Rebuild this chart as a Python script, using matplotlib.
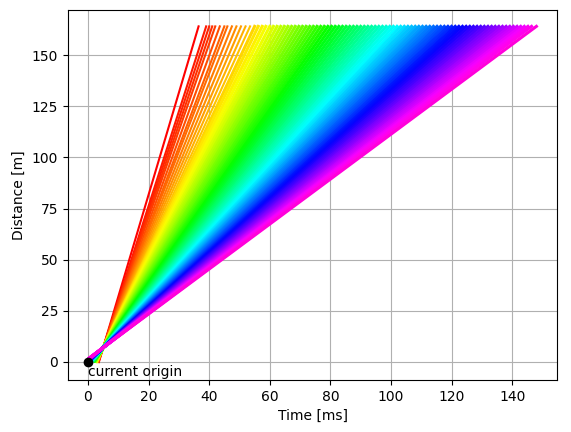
import numpy as np
import matplotlib.pyplot as plt

# arrival time [ms] of each trace at the top distance
end_times = [36.5, 39.0, 40.0, 41.0, 42.0, 43.5, 45.0, 46.0, 47.5, 49.0, 50.5, 52.0,
             53.5, 55.0, 56.2, 57.5, 58.7, 60.0, 61.2, 62.4, 63.6, 64.8, 66.0, 67.2,
             68.4, 69.6, 70.8, 72.0, 73.2, 74.4, 75.6, 76.8, 78.0, 79.2, 80.4, 81.6,
             82.8, 84.0, 85.2, 86.4, 87.6, 88.8, 90.0, 91.2, 92.4, 93.6, 94.8, 96.0,
             97.2, 98.4, 99.6, 100.8, 102.0, 103.2, 104.4, 105.6, 106.8, 108.0, 109.2,
             110.4, 111.6, 112.8, 114.0, 115.2, 116.4, 117.6, 118.8, 120.0, 121.2,
             122.4, 123.6, 124.8, 126.0, 127.2, 128.4, 129.6, 130.8, 132.0, 133.2,
             134.4, 135.6, 136.8, 138.0, 139.2, 140.4, 141.6, 142.8, 144.0, 145.2,
             146.4, 148.0]
top_distance = 164.0
pivot_time = 5.0     # traces cross here
pivot_dist = 7.0
start_dist_red = 0.0
start_dist_magenta = 2.0

fig = plt.figure(figsize=(5.71, 4.32), dpi=100)
ax = fig.add_axes([68 / 571, 52 / 432, 489 / 571, 370 / 432])
n = len(end_times)
cmap = plt.get_cmap('hsv')
tmin, tmax = min(end_times), max(end_times)
for i, t1 in enumerate(end_times):
    frac = (t1 - tmin) / (tmax - tmin)
    slope = (t1 - pivot_time) / (top_distance - pivot_dist)
    d0 = start_dist_red + frac * (start_dist_magenta - start_dist_red)
    t0 = pivot_time - (pivot_dist - d0) * slope
    ax.plot([t0, t1], [d0, top_distance], color=cmap(frac * 0.87), lw=2.2 if i > 12 else 1.5)

ax.plot(0, 0, 'o', color='black', zorder=5)
ax.text(0, -1.5, 'current origin', va='top', ha='left', fontsize=10)
ax.set_xlim(-6.6, 154.8)
ax.set_ylim(-8.8, 172)
ax.set_yticks(np.arange(0, 151, 25))
ax.set_xlabel('Time [ms]')
ax.set_ylabel('Distance [m]')
ax.grid(True)
fig.savefig('out.png')
